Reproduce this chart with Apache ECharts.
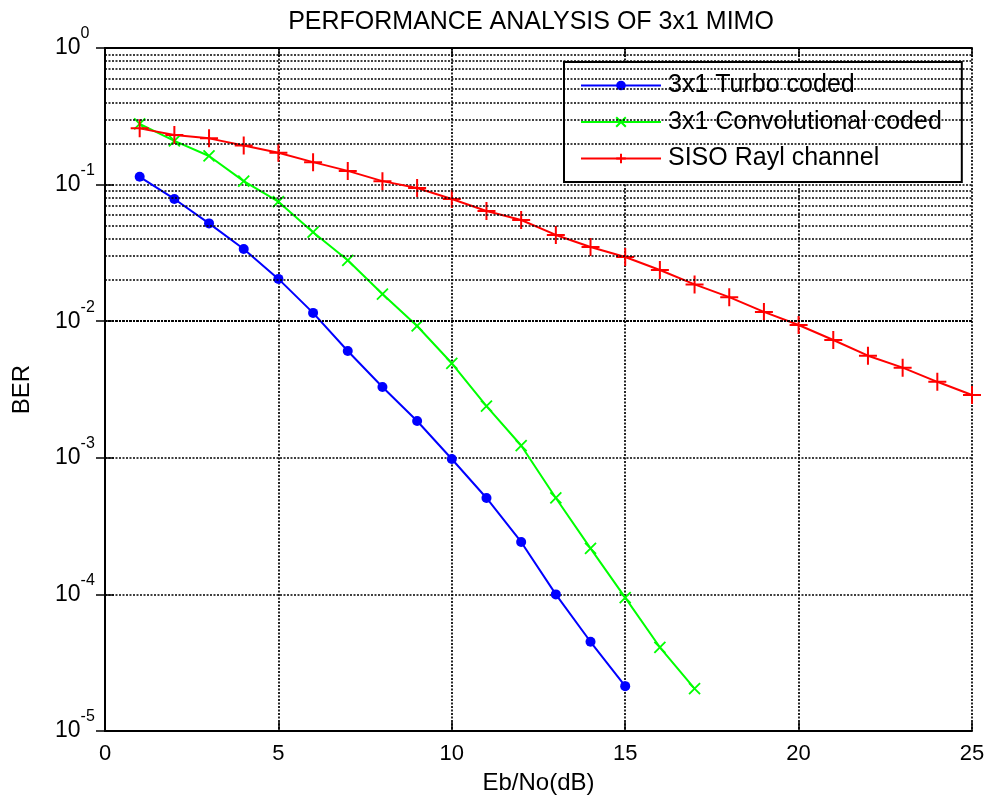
<!DOCTYPE html>
<html>
<head>
<meta charset="utf-8">
<script src="https://cdn.jsdelivr.net/npm/echarts@6/dist/echarts.min.js"></script>
<style>
  html, body { margin: 0; padding: 0; background: #fff; }
  #chart { width: 990px; height: 806px; }
</style>
</head>
<body>
<div id="chart"></div>
<script>
// Eb/No (dB) points for each curve
const ebnoTurbo = [1, 2, 3, 4, 5, 6, 7, 8, 9, 10, 11, 12, 13, 14, 15]
const ebnoConv = [1, 2, 3, 4, 5, 6, 7, 8, 9, 10, 11, 12, 13, 14, 15, 16, 17]
const ebnoSiso = [1, 2, 3, 4, 5, 6, 7, 8, 9, 10, 11, 12, 13, 14, 15, 16, 17, 18, 19, 20, 21, 22, 23, 24, 25]

// BER
const berTurbo = [0.114, 0.0785, 0.052, 0.0338, 0.0204, 0.0115, 0.00605, 0.0033, 0.00186,
  0.00098, 0.000508, 0.000242, 0.0001, 0.000045, 0.0000213]
const berConv = [0.278, 0.209, 0.162, 0.106, 0.075, 0.0448, 0.0279, 0.0158, 0.00923,
  0.00492, 0.00239, 0.00123, 0.000508, 0.000217, 0.0000946, 0.000041, 0.0000204]
const berSiso = [0.258, 0.231, 0.218, 0.193, 0.171, 0.146, 0.126, 0.106, 0.0944, 0.0785,
  0.0641, 0.0551, 0.0428, 0.0349, 0.0295, 0.0237, 0.0186, 0.015, 0.0117, 0.00938,
  0.00728, 0.00559, 0.00457, 0.0036, 0.00288]

const seriesNames = ['3x1 Turbo coded', '3x1 Convolutional coded', 'SISO Rayl channel']
const xTicks = [0, 5, 10, 15, 20, 25]
const decades = [-5, -4, -3, -2, -1, 0]

// minor grid lines at 2..9 x 10^k (matlab style log grid)
const minorGrid = []
decades.slice(0, -1).forEach(k => {
  for (let m = 2; m <= 9; m++) minorGrid.push(m * Math.pow(10, k))
})

const font = 'Liberation Sans, Arial, sans-serif'
const gridLine = { color: '#000', type: [2, 1.5], width: 1.7 }

const zip = (xs, ys) => xs.map((x, i) => [x, ys[i]])

const chart = echarts.init(document.getElementById('chart'), null, { renderer: 'canvas' })

chart.setOption({
  animation: false,
  backgroundColor: '#fff',
  textStyle: { fontFamily: font, color: '#000' },
  title: {
    text: 'PERFORMANCE ANALYSIS OF 3x1 MIMO',
    left: 526,
    top: 5,
    textAlign: 'center',
    textStyle: { fontFamily: font, fontSize: 25, fontWeight: 'normal', color: '#000' },
  },
  grid: { left: 105, right: 18, top: 48, bottom: 75 },
  legend: {
    orient: 'vertical',
    left: 564,
    top: 62,
    data: seriesNames,
    itemWidth: 80,
    itemHeight: 12,
    itemGap: 11.5,
    padding: [11, 20, 11, 16],
    backgroundColor: '#fff',
    borderColor: '#000',
    borderWidth: 2,
    borderRadius: 0,
    textStyle: { fontFamily: font, fontSize: 25, color: '#000', padding: [0, 0, 0, 2] },
  },
  xAxis: [{
    type: 'value',
    min: xTicks[0],
    max: xTicks[xTicks.length - 1],
    interval: 5,
    name: 'Eb/No(dB)',
    nameLocation: 'middle',
    nameGap: 40,
    nameTextStyle: { fontFamily: font, fontSize: 24, color: '#000' },
    axisLine: { lineStyle: { color: '#000', width: 2 } },
    axisTick: { inside: true, length: 9, lineStyle: { color: '#000', width: 1.5 } },
    axisLabel: { fontFamily: font, fontSize: 22, color: '#000', margin: 12 },
    splitLine: { show: true, lineStyle: gridLine },
  }, {
    type: 'value',
    position: 'top',
    min: xTicks[0],
    max: xTicks[xTicks.length - 1],
    interval: 5,
    axisLine: { show: true, lineStyle: { color: '#000', width: 2 } },
    axisTick: { inside: true, length: 9, lineStyle: { color: '#000', width: 1.5 } },
    axisLabel: { show: false },
    splitLine: { show: false },
  }],
  yAxis: [{
    type: 'log',
    logBase: 10,
    min: 1e-5,
    max: 1,
    interval: 1,
    name: 'BER',
    nameLocation: 'middle',
    nameGap: 71,
    nameTextStyle: { fontFamily: font, fontSize: 24, color: '#000' },
    axisLine: { show: true, lineStyle: { color: '#000', width: 2 } },
    axisTick: { inside: true, length: 9, lineStyle: { color: '#000', width: 1.5 } },
    axisLabel: {
      align: 'left',
      margin: 50,
      fontSize: 22,
      formatter: v => '{b|10}{s|' + Math.round(Math.log10(v)) + '}',
      rich: {
        b: { fontFamily: font, fontSize: 23, lineHeight: 44, color: '#000', verticalAlign: 'middle' },
        s: { fontFamily: font, fontSize: 16, lineHeight: 16, color: '#000', verticalAlign: 'top' },
      },
    },
    splitLine: { show: true, lineStyle: gridLine },
  }, {
    type: 'log',
    logBase: 10,
    min: 1e-5,
    max: 1,
    interval: 1,
    position: 'right',
    axisLine: { show: true, lineStyle: { color: '#000', width: 2 } },
    axisTick: { inside: true, length: 9, lineStyle: { color: '#000', width: 1.5 } },
    axisLabel: { show: false },
    splitLine: { show: false },
  }],
  series: [
    {
      // only carries the minor log grid
      name: 'minor-grid',
      type: 'line',
      data: [],
      z: 1,
      silent: true,
      markLine: {
        silent: true,
        symbol: 'none',
        label: { show: false },
        lineStyle: gridLine,
        data: minorGrid.map(v => ({ yAxis: v })),
      },
    },
    {
      name: seriesNames[0],
      type: 'line',
      z: 3,
      data: zip(ebnoTurbo, berTurbo),
      symbol: 'circle',
      symbolSize: 10,
      lineStyle: { color: '#0000ff', width: 2 },
      itemStyle: { color: '#0000ff' },
    },
    {
      name: seriesNames[1],
      type: 'line',
      z: 3,
      data: zip(ebnoConv, berConv),
      symbol: 'path://M0,0L10,10M10,0L0,10',
      symbolSize: 11,
      lineStyle: { color: '#00ff00', width: 2 },
      itemStyle: { color: '#00ff00', borderColor: '#00ff00', borderWidth: 1.8 },
    },
    {
      name: seriesNames[2],
      type: 'line',
      z: 3,
      data: zip(ebnoSiso, berSiso),
      symbol: 'path://M5,0L5,10M0,5L10,5',
      symbolSize: 18,
      lineStyle: { color: '#ff0000', width: 2 },
      itemStyle: { color: '#ff0000', borderColor: '#ff0000', borderWidth: 2 },
    },
  ],
})
</script>
</body>
</html>
